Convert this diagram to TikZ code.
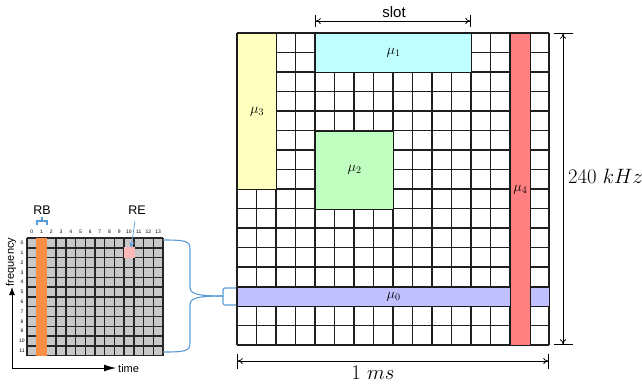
\documentclass[tikz,border=0pt]{standalone}
\usepackage{fontspec}
\newfontfamily\hv{Liberation Sans}
\usetikzlibrary{arrows.meta}
\definecolor{yelf}{HTML}{FFFFC0}
\definecolor{cyaf}{HTML}{C0FFFF}
\definecolor{grnf}{HTML}{C0FFC0}
\definecolor{lavf}{HTML}{C0C0FF}
\definecolor{redf}{HTML}{FF8080}
\definecolor{grayf}{HTML}{C8C8C8}
\definecolor{orgf}{HTML}{FB8E45}
\definecolor{pinkf}{HTML}{FFB8B8}
\definecolor{bracec}{HTML}{5B9BD5}
\begin{document}
\begin{tikzpicture}[x=1pt,y=-1pt,
  gline/.style={line width=1.2pt, draw=black!88},
  lline/.style={line width=1.4pt, draw=black!85},
  blk/.style={draw=black!90, line width=1.2pt, anchor=north west, inner sep=0pt, font=\fontsize{14}{16}\selectfont},
  dim/.style={line width=0.8pt},
  bluel/.style={draw=bracec, line width=1.1pt},
  tick/.style={font=\hv\fontsize{5}{6}\selectfont, inner sep=0pt},
  sans/.style={font=\hv\fontsize{11}{13}\selectfont, inner sep=0pt}]
\useasboundingbox (0,0) rectangle (642,384);
% ---------- big grid ----------
\foreach \i in {0,...,16} {
  \draw[gline] ({237+19.5*\i},33) -- ({237+19.5*\i},345);
  \draw[gline] (237,{33+19.5*\i}) -- (549,{33+19.5*\i});
}
\node[blk, fill=yelf, minimum width=39pt, minimum height=156pt] (mu3) at (237,33) {$\mu_3$};
\node[blk, fill=cyaf, minimum width=156pt, minimum height=39pt] (mu1) at (315,33) {$\mu_1$};
\node[blk, fill=grnf, minimum width=78pt, minimum height=78pt] (mu2) at (315,130.5) {$\mu_2$};
\node[blk, fill=lavf, minimum width=312pt, minimum height=19.5pt] (mu0) at (237,286.5) {$\mu_0$};
\node[blk, fill=redf, minimum width=19.5pt, minimum height=312pt] (mu4) at (510,33) {$\mu_4$};
% ---------- dimension arrows ----------
\coordinate (sa) at (315,21);
\coordinate (sb) at (471,21);
\draw[dim, {Bar[width=12pt]To[length=5pt,width=6pt]}-{To[length=5pt,width=6pt]Bar[width=12pt]}] (sa) -- (sb);
\node[font=\hv\fontsize{15}{17}\selectfont, inner sep=0pt] (slot) at (394,12) {slot};
\coordinate (ba) at (237,361);
\coordinate (bb) at (549,361);
\draw[dim, {Bar[width=15pt]To[length=5pt,width=6pt]}-{To[length=5pt,width=6pt]Bar[width=15pt]}] (ba) -- (bb);
\node[font=\fontsize{20.5}{22}\selectfont, inner sep=0pt] (ms) at (373,373) {$1\ ms$};
\coordinate (ra) at (563,33);
\coordinate (rb) at (563,345);
\draw[dim, {Bar[width=19pt]To[length=5pt,width=6pt]}-{To[length=5pt,width=6pt]Bar[width=19pt]}] (ra) -- (rb);
\node[font=\fontsize{20.5}{22}\selectfont, inner sep=0pt, anchor=west] (khz) at (568,176) {$240\ kHz$};
% ---------- small grid ----------
\fill[grayf] (27,238) rectangle (163,355.6);
\foreach \i in {0,...,14} \draw[lline] ({27+9.714*\i},238) -- ({27+9.714*\i},355.6);
\foreach \j in {0,...,12} \draw[lline] (27,{238+9.8*\j}) -- (163,{238+9.8*\j});
\fill[orgf] (35.9,237.5) rectangle (46.9,356);
\fill[pinkf] (124,247) rectangle (134.5,257.5);
\foreach \i in {0,...,13} \node[tick] (c\i) at ({27+9.714*(\i+0.5)},232) {\i};
\foreach \j in {0,...,11} \node[tick] (r\j) at (22,{238+9.8*(\j+0.5)}) {\j};
% axes
\coordinate (org) at (12,368);
\coordinate (ytop) at (12,287);
\coordinate (xend) at (116,368);
\draw[line width=0.9pt, -{Latex[length=8pt,width=6pt]}] (org) -- (ytop);
\draw[line width=0.9pt, -{Latex[length=12pt,width=7pt]}] (org) -- (xend);
\node[sans, rotate=90] (freq) at (11,262) {frequency};
\node[sans, anchor=west] (time) at (118,369) {time};
% RB / RE
\node[font=\hv\fontsize{12.5}{14}\selectfont, inner sep=0pt] (rbl) at (42,210) {RB};
\draw[bluel] (37,225) -- (37,221) -- (47,221) -- (47,225);
\draw[bluel] (42,221) -- (42,217);
\node[font=\hv\fontsize{12.5}{14}\selectfont, inner sep=0pt] (rel) at (137,210) {RE};
\coordinate (rea) at (135,221);
\coordinate (reb) at (131,248);
\draw[bluel, line width=0.7pt, -{Straight Barb[length=5pt,width=4pt]}] (rea) -- (reb);
% brace connector
\coordinate (bt) at (163,240);
\coordinate (bbt) at (163,352);
\coordinate (tip) at (223,296);
\draw[bluel] (bt) .. controls (186,240) and (190,241) .. (190,249) -- (190,287) .. controls (190,294) and (197,296) .. (tip);
\draw[bluel] (bbt) .. controls (186,352) and (190,351) .. (190,343) -- (190,305) .. controls (190,298) and (197,296) .. (tip);
\draw[bluel, rounded corners=2pt] (236,288) -- (223,288) -- (223,305) -- (236,305);
\end{tikzpicture}
\end{document}
